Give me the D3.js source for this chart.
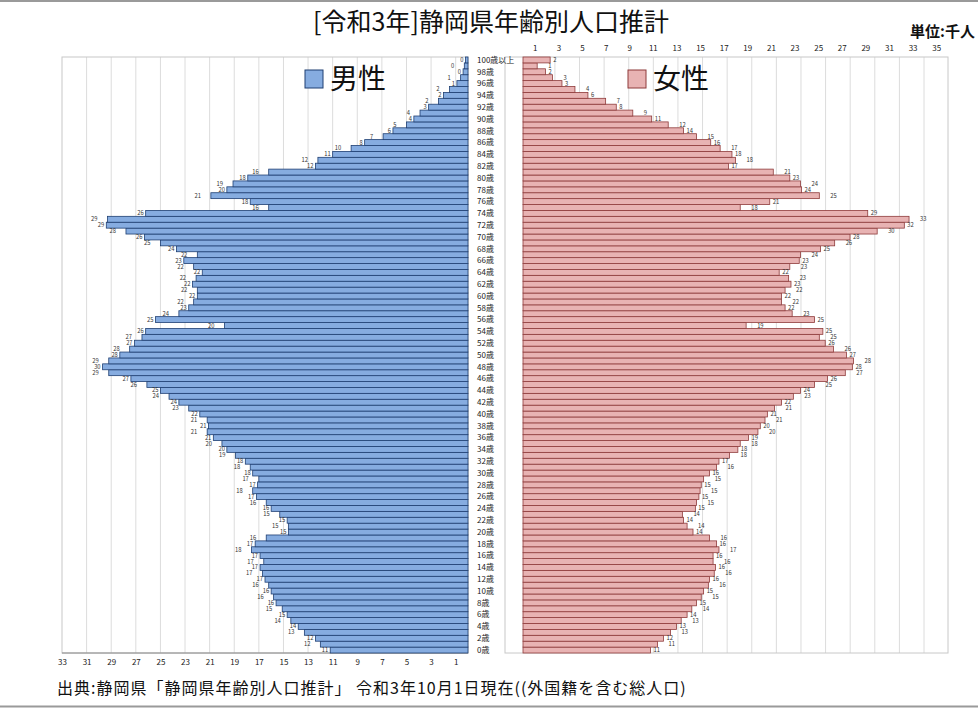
<!DOCTYPE html>
<html>
<head>
<meta charset="utf-8">
<script src="https://cdn.jsdelivr.net/npm/d3@7"></script>
<style>
    body { margin: 0; background: #fff; }
    svg { display: block; font-family: "Noto Sans CJK JP", "Noto Sans", sans-serif; }
</style>
</head>
<body>
<script>
// age categories, 0 at the bottom, 100+ at the top
var ageLabels = ["0歳", "1歳", "2歳", "3歳", "4歳", "5歳", "6歳", "7歳", "8歳", "9歳",
    "10歳", "11歳", "12歳", "13歳", "14歳", "15歳", "16歳", "17歳", "18歳", "19歳",
    "20歳", "21歳", "22歳", "23歳", "24歳", "25歳", "26歳", "27歳", "28歳", "29歳",
    "30歳", "31歳", "32歳", "33歳", "34歳", "35歳", "36歳", "37歳", "38歳", "39歳",
    "40歳", "41歳", "42歳", "43歳", "44歳", "45歳", "46歳", "47歳", "48歳", "49歳",
    "50歳", "51歳", "52歳", "53歳", "54歳", "55歳", "56歳", "57歳", "58歳", "59歳",
    "60歳", "61歳", "62歳", "63歳", "64歳", "65歳", "66歳", "67歳", "68歳", "69歳",
    "70歳", "71歳", "72歳", "73歳", "74歳", "75歳", "76歳", "77歳", "78歳", "79歳",
    "80歳", "81歳", "82歳", "83歳", "84歳", "85歳", "86歳", "87歳", "88歳", "89歳",
    "90歳", "91歳", "92歳", "93歳", "94歳", "95歳", "96歳", "97歳", "98歳", "99歳",
    "100歳以上"];

// thousand persons, same order as ageLabels
var male = [11.2, 12.0, 12.4, 13.3, 13.8, 14.4, 14.7, 15.1, 15.6, 15.8,
    16.0, 16.2, 16.5, 16.7, 16.9, 16.6, 16.9, 17.6, 17.3, 16.4,
    14.6, 14.6, 14.7, 15.3, 16.0, 16.4, 17.2, 17.5, 17.1, 17.0,
    17.5, 17.7, 18.1, 18.9, 19.6, 20.0, 20.7, 21.2, 21.1, 21.2,
    21.8, 22.7, 23.5, 24.3, 25.0, 26.1, 27.4, 29.2, 29.7, 29.2,
    28.3, 27.5, 27.1, 26.5, 26.2, 19.8, 25.4, 23.5, 22.7, 22.3,
    22.0, 22.0, 22.4, 22.1, 21.6, 22.3, 23.1, 22.0, 23.7, 25.0,
    26.3, 27.8, 29.4, 29.3, 26.2, 16.2, 17.7, 20.9, 19.6, 19.1,
    17.9, 16.2, 12.4, 12.2, 11.0, 9.5, 8.4, 6.9, 6.1, 5.0,
    4.4, 3.9, 3.2, 2.4, 2.0, 1.5, 0.9, 0.6, 0.4, 0.3,
    0.2];

var female = [10.8, 11.4, 11.9, 12.5, 13.0, 13.4, 13.9, 14.3, 14.7, 15.1,
    15.3, 15.7, 15.8, 16.2, 16.3, 16.1, 16.1, 16.6, 16.4, 15.8,
    14.4, 13.9, 13.6, 13.5, 14.6, 14.7, 14.9, 15.0, 15.1, 15.3,
    15.8, 16.4, 16.6, 17.5, 18.2, 18.4, 19.1, 19.9, 20.1, 20.5,
    20.7, 21.3, 21.9, 22.9, 23.5, 24.7, 25.8, 27.3, 27.9, 28.0,
    27.4, 26.3, 25.6, 25.1, 25.4, 18.9, 24.7, 22.8, 22.2, 21.9,
    21.9, 22.2, 22.7, 22.5, 21.7, 22.6, 23.4, 23.5, 25.2, 26.4,
    27.7, 30.0, 32.3, 32.7, 29.2, 18.4, 20.9, 25.1, 23.6, 23.5,
    22.6, 21.2, 17.4, 18.0, 17.7, 16.7, 15.9, 14.7, 13.6, 12.3,
    10.9, 9.3, 7.9, 7.0, 5.5, 4.4, 3.3, 2.5, 1.9, 1.2,
    2.3];

var leftTicks = [33, 31, 29, 27, 25, 23, 21, 19, 17, 15, 13, 11, 9, 7, 5, 3, 1];
var rightTicks = [1, 3, 5, 7, 9, 11, 13, 15, 17, 19, 21, 23, 25, 27, 29, 31, 33, 35];

var titleText = "[令和3年]静岡県年齢別人口推計";
var unitText = "単位:千人";
var sourceText = "出典:静岡県「静岡県年齢別人口推計」 令和3年10月1日現在((外国籍を含む総人口)";

var colors = {
    maleFill: "#86ace0", maleLine: "#1f3f72",
    femaleFill: "#e8b3b3", femaleLine: "#8e3b3b",
    grid: "#dcdcdc", text: "#222"
};

var svg = d3.select("body").append("svg")
    .attr("width", 978)
    .attr("height", 708);

// Scales
var y = d3.scaleBand().domain(ageLabels.slice().reverse()).range([57, 653]);
var xL = d3.scaleLinear().domain([0, 33]).range([468, 62]);
var xR = d3.scaleLinear().domain([0, 36]).range([523, 948]);
// the grid of the right panel does not follow its value scale in the original
var xGridR = d3.scaleLinear().domain([0, 33]).range([518, 924]);

// page rules
svg.append("line").attr("x1", 0).attr("x2", 978).attr("y1", 1).attr("y2", 1)
    .attr("stroke", "#9a9a9a").attr("stroke-width", 2);
svg.append("line").attr("x1", 0).attr("x2", 978).attr("y1", 706.5).attr("y2", 706.5)
    .attr("stroke", "#9a9a9a").attr("stroke-width", 2);

// Grid lines
svg.append("g").selectAll("line")
    .data(leftTicks.slice(1))
    .enter().append("line")
    .attr("x1", function (d) { return xL(d); })
    .attr("x2", function (d) { return xL(d); })
    .attr("y1", 57).attr("y2", 653)
    .attr("stroke", colors.grid);

svg.append("g").selectAll("line")
    .data(leftTicks)
    .enter().append("line")
    .attr("x1", function (d) { return xGridR(d); })
    .attr("x2", function (d) { return xGridR(d); })
    .attr("y1", 57).attr("y2", 653)
    .attr("stroke", colors.grid);

// panel frames
svg.append("rect").attr("x", xL(33)).attr("y", 57)
    .attr("width", xL(0) - xL(33)).attr("height", 596)
    .attr("fill", "none").attr("stroke", "#c8c8c8");
svg.append("rect").attr("x", 505).attr("y", 57)
    .attr("width", xR(36) - 505).attr("height", 596)
    .attr("fill", "none").attr("stroke", "#c8c8c8");
svg.append("line").attr("x1", xL(33)).attr("x2", xL(0)).attr("y1", 653).attr("y2", 653)
    .attr("stroke", "#8a8a8a");

// Bars
svg.append("g").selectAll("rect")
    .data(male)
    .enter().append("rect")
    .attr("x", function (d) { return xL(d); })
    .attr("y", function (d, i) { return y(ageLabels[i]); })
    .attr("width", function (d) { return xL(0) - xL(d); })
    .attr("height", y.bandwidth())
    .attr("fill", colors.maleFill)
    .attr("stroke", colors.maleLine)
    .attr("stroke-width", 0.8);

svg.append("g").selectAll("rect")
    .data(female)
    .enter().append("rect")
    .attr("x", xR(0))
    .attr("y", function (d, i) { return y(ageLabels[i]); })
    .attr("width", function (d) { return xR(d) - xR(0); })
    .attr("height", y.bandwidth())
    .attr("fill", colors.femaleFill)
    .attr("stroke", colors.femaleLine)
    .attr("stroke-width", 0.8);

// value labels, zig-zag like the original so neighbours do not sit on each other
var fmt = d3.format(".0f");
function nudge(i) { return i % 2 === 0 ? 2 : 10; }

svg.append("g").selectAll("text")
    .data(male)
    .enter().append("text")
    .attr("x", function (d, i) { return xL(d) - nudge(i); })
    .attr("y", function (d, i) { return y(ageLabels[i]) + y.bandwidth() / 2; })
    .attr("dy", "0.35em")
    .attr("text-anchor", "end")
    .attr("font-size", 5.8)
    .attr("fill", "#333")
    .text(function (d) { return fmt(d); });

svg.append("g").selectAll("text")
    .data(female)
    .enter().append("text")
    .attr("x", function (d, i) { return xR(d) + nudge(i) + 1; })
    .attr("y", function (d, i) { return y(ageLabels[i]) + y.bandwidth() / 2; })
    .attr("dy", "0.35em")
    .attr("font-size", 5.8)
    .attr("fill", "#333")
    .text(function (d) { return fmt(d); });

// age labels, every second year
svg.append("g").selectAll("text")
    .data(ageLabels.filter(function (d, i) { return i % 2 === 0; }))
    .enter().append("text")
    .attr("x", 477)
    .attr("y", function (d) { return y(d) + y.bandwidth() / 2; })
    .attr("dy", "0.35em")
    .attr("font-size", 8)
    .attr("fill", colors.text)
    .text(function (d) { return d; });

// Axes
var axisB = svg.append("g")
    .attr("transform", "translate(0,656)")
    .call(d3.axisBottom(xL).tickValues(leftTicks).tickSize(0).tickFormat(d3.format("d")));
var axisT = svg.append("g")
    .attr("transform", "translate(0,54)")
    .call(d3.axisTop(xR).tickValues(rightTicks).tickSize(0).tickFormat(d3.format("d")));
[axisB, axisT].forEach(function (g) {
    g.select(".domain").remove();
    g.selectAll("text")
        .attr("font-family", "\"Noto Sans CJK JP\", sans-serif")
        .attr("font-size", 8)
        .attr("fill", colors.text);
});

// Legend
var legend = [
    { name: "男性", x: 305, fill: colors.maleFill, line: colors.maleLine },
    { name: "女性", x: 628, fill: colors.femaleFill, line: colors.femaleLine }
];
var lg = svg.append("g").selectAll("g").data(legend).enter().append("g");
lg.append("rect")
    .attr("x", function (d) { return d.x; })
    .attr("y", 70)
    .attr("width", 18).attr("height", 18)
    .attr("fill", function (d) { return d.fill; })
    .attr("stroke", function (d) { return d.line; });
lg.append("text")
    .attr("x", function (d) { return d.x + 25; })
    .attr("y", 89)
    .attr("font-size", 28)
    .attr("fill", "#111")
    .text(function (d) { return d.name; });

// Titles
svg.append("text")
    .attr("x", 491).attr("y", 31)
    .attr("text-anchor", "middle")
    .attr("font-size", 25)
    .attr("fill", "#111")
    .text(titleText);

svg.append("text")
    .attr("x", 975).attr("y", 37)
    .attr("text-anchor", "end")
    .attr("font-size", 15)
    .attr("font-weight", "bold")
    .attr("fill", "#111")
    .text(unitText);

svg.append("text")
    .attr("x", 57).attr("y", 694)
    .attr("font-size", 16)
    .attr("letter-spacing", 1)
    .attr("fill", "#111")
    .text(sourceText);
</script>
</body>
</html>
